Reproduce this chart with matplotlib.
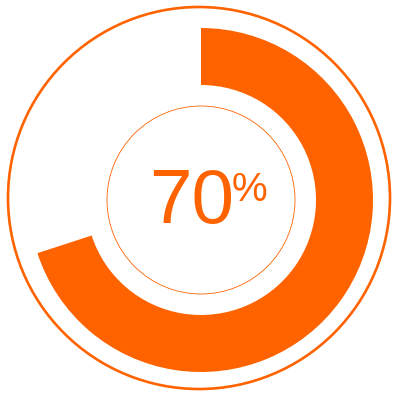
import matplotlib.pyplot as plt
from matplotlib.patches import Wedge, Circle

# valeur affichée
percent = 70
label_value = "70"
label_sign = "%"
orange = "#FF6300"

fig = plt.figure(figsize=(4, 4), dpi=100)
ax = fig.add_axes([0, 0, 1, 1])
ax.set_xlim(0, 400)
ax.set_ylim(0, 400)
ax.set_aspect("equal")
ax.axis("off")

cx, cy = 200, 200

# anneau extérieur
ax.add_patch(Circle((cx - 1, cy + 2), 191, fill=False, ec=orange, lw=1.9))

# arc de progression (départ en haut, sens horaire)
end = 90 - 360 * percent / 100
ax.add_patch(Wedge((cx + 1, cy), 172, end, 90, width=57, fc=orange, ec="none"))

# cercle fin intérieur
ax.add_patch(Circle((cx + 1, cy), 94, fill=False, ec=orange, lw=0.6))

# texte central
ax.text(149, 177, label_value, color=orange, fontsize=55, family="Liberation Sans",
        ha="left", va="baseline")
ax.text(232, 199, label_sign, color=orange, fontsize=29, family="Liberation Sans",
        ha="left", va="baseline")

fig.savefig("out.png", dpi=100)
